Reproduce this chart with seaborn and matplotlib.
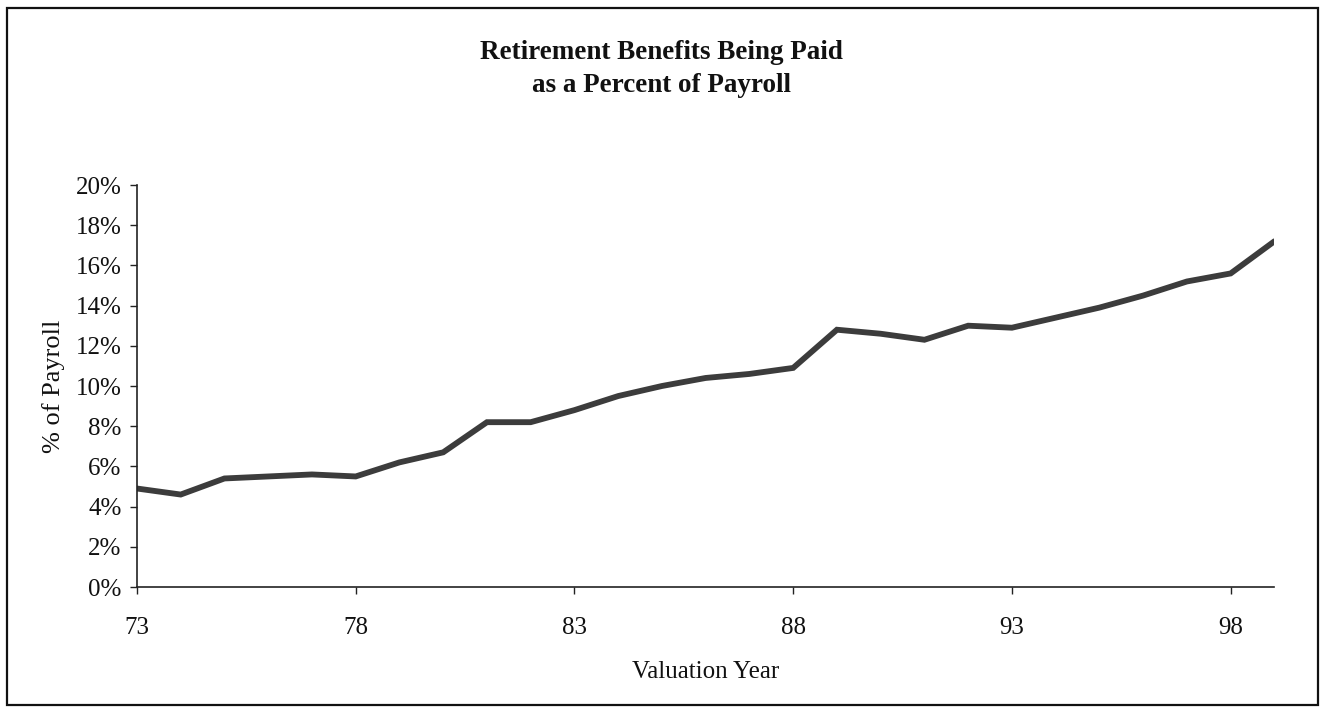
import matplotlib
matplotlib.use("Agg")
import matplotlib.pyplot as plt
from matplotlib.patches import Rectangle
from matplotlib.ticker import FuncFormatter, MultipleLocator
import pandas as pd
import seaborn as sns

# Valuation years (two-digit) and benefits paid as % of payroll
years = [73, 74, 75, 76, 77, 78, 79, 80, 81, 82, 83, 84, 85,
         86, 87, 88, 89, 90, 91, 92, 93, 94, 95, 96, 97, 98, 99]
pct_payroll = [4.9, 4.6, 5.4, 5.5, 5.6, 5.5, 6.2, 6.7, 8.2, 8.2, 8.8, 9.5, 10.0,
               10.4, 10.6, 10.9, 12.8, 12.6, 12.3, 13.0, 12.9, 13.4, 13.9, 14.5, 15.2, 15.6, 17.2]
x_ticks = [73, 78, 83, 88, 93, 98]

df = pd.DataFrame({"year": years, "pct": pct_payroll})

sns.set_theme(style="ticks")
plt.rcParams["font.family"] = ["Liberation Serif", "DejaVu Serif"]

fig = plt.figure(figsize=(13.22, 7.11), dpi=100)
ax = fig.add_axes([0.1036, 0.1744, 0.8604, 0.5654])

sns.lineplot(data=df, x="year", y="pct", ax=ax, color="#3c3c3c", linewidth=4.2,
             solid_joinstyle="miter")

ax.set_xlim(73, 99)
ax.set_ylim(0, 20)
ax.set_xticks(x_ticks)
ax.set_xticklabels([str(t) for t in x_ticks])
ax.yaxis.set_major_locator(MultipleLocator(2))
ax.yaxis.set_major_formatter(FuncFormatter(lambda v, _: f"{v:.0f}%"))

for side in ("top", "right"):
    ax.spines[side].set_visible(False)
for side in ("left", "bottom"):
    ax.spines[side].set_color("#222222")
    ax.spines[side].set_linewidth(1.2)

ax.tick_params(axis="both", direction="out", length=5, width=1.0, color="#222222",
               labelsize=18, labelcolor="#111111", pad=6)
ax.tick_params(axis="x", pad=16.5)

ax.set_xlabel("Valuation Year", fontsize=18, color="#111111", labelpad=16)
ax.set_ylabel("% of Payroll", fontsize=19, color="#111111", labelpad=8)

fig.text(0.5, 0.926, "Retirement Benefits Being Paid", ha="center", va="center",
         fontsize=19.5, fontweight="bold", color="#111111")
fig.text(0.5, 0.880, "as a Percent of Payroll", ha="center", va="center",
         fontsize=19.5, fontweight="bold", color="#111111")

# outer frame around the whole chart
fig.patches.append(Rectangle((0.005, 0.008), 0.992, 0.981, transform=fig.transFigure,
                             fill=False, edgecolor="#111111", linewidth=1.6))

fig.savefig("out.png", dpi=100, facecolor="white")
